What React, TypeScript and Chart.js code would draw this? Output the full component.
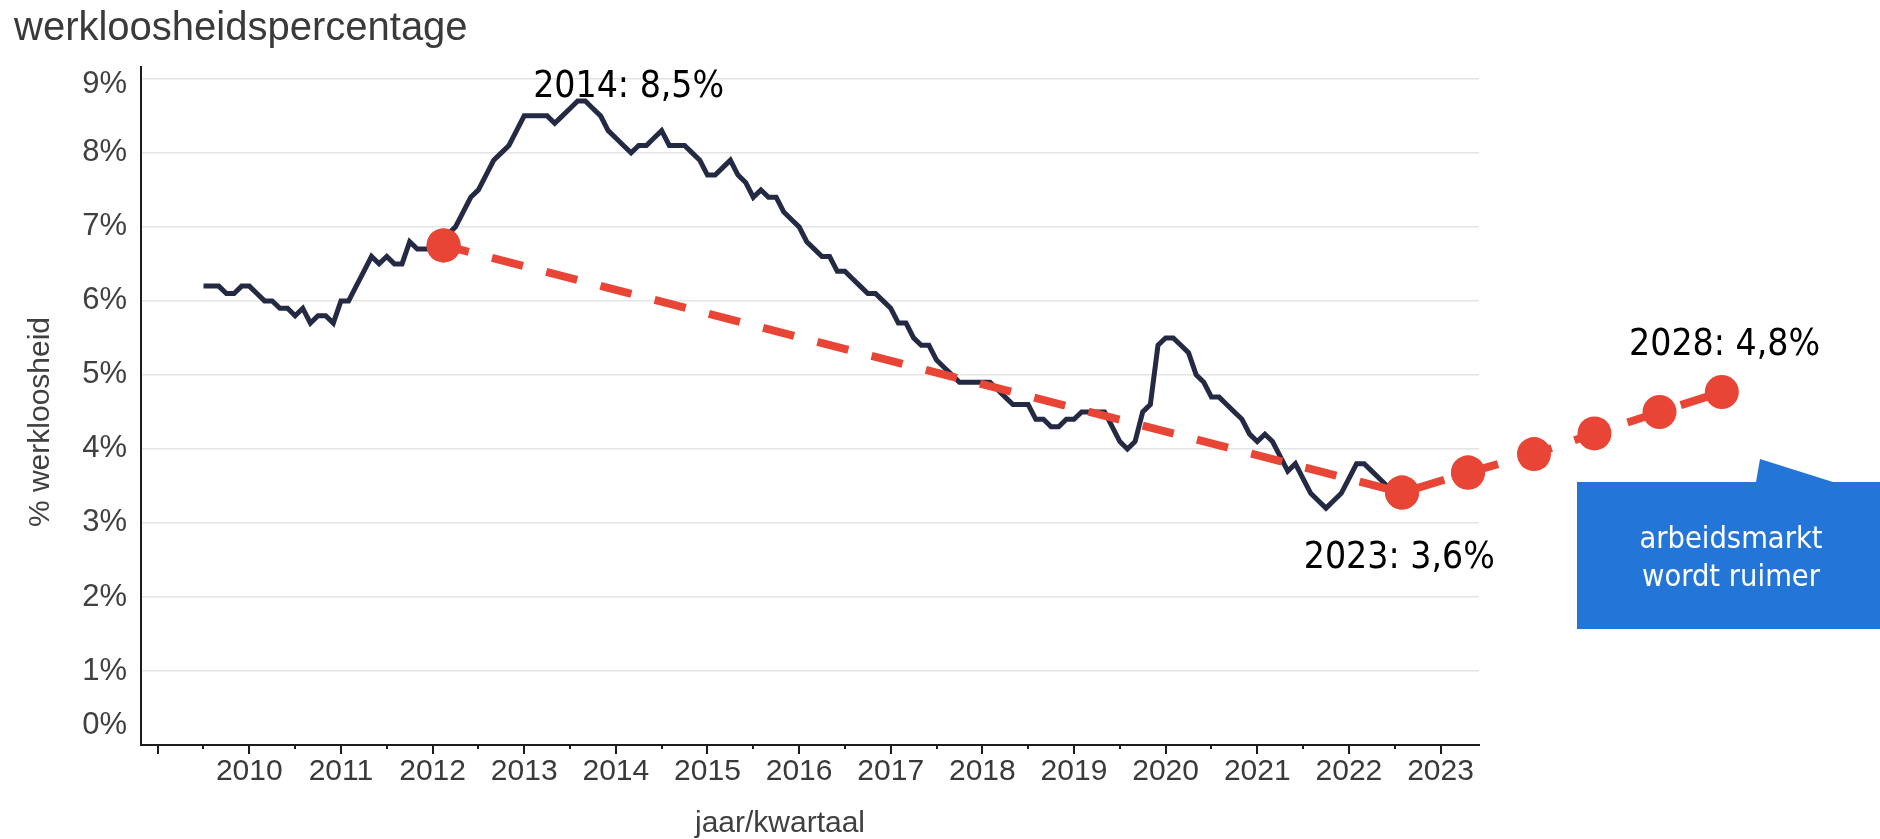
import React, { useEffect, useRef } from 'react';
import { Chart, registerables } from 'chart.js';

Chart.register(...registerables);

// ---- texts ----
const CHART_TITLE = 'werkloosheidspercentage';
const Y_AXIS_TITLE = '% werkloosheid';
const X_AXIS_TITLE = 'jaar/kwartaal';
const CALLOUT_LINES = ['arbeidsmarkt', 'wordt ruimer'];

// ---- data ----
// monthly unemployment rate (%), first month = July 2009
const SERIES_START = 2009.5;
const unemploymentMonthly = [
  6.2, 6.2, 6.2, 6.1, 6.1, 6.2, 6.2, 6.1, 6.0, 6.0, 5.9, 5.9,
  5.8, 5.9, 5.7, 5.8, 5.8, 5.7, 6.0, 6.0, 6.2, 6.4, 6.6, 6.5,
  6.6, 6.5, 6.5, 6.8, 6.7, 6.7, 6.7, 6.8, 6.9, 7.0, 7.2, 7.4,
  7.5, 7.7, 7.9, 8.0, 8.1, 8.3, 8.5, 8.5, 8.5, 8.5, 8.4, 8.5,
  8.6, 8.7, 8.7, 8.6, 8.5, 8.3, 8.2, 8.1, 8.0, 8.1, 8.1, 8.2,
  8.3, 8.1, 8.1, 8.1, 8.0, 7.9, 7.7, 7.7, 7.8, 7.9, 7.7, 7.6,
  7.4, 7.5, 7.4, 7.4, 7.2, 7.1, 7.0, 6.8, 6.7, 6.6, 6.6, 6.4,
  6.4, 6.3, 6.2, 6.1, 6.1, 6.0, 5.9, 5.7, 5.7, 5.5, 5.4, 5.4,
  5.2, 5.1, 5.0, 4.9, 4.9, 4.9, 4.9, 4.9, 4.8, 4.7, 4.6, 4.6,
  4.6, 4.4, 4.4, 4.3, 4.3, 4.4, 4.4, 4.5, 4.5, 4.5, 4.5, 4.3,
  4.1, 4.0, 4.1, 4.5, 4.6, 5.4, 5.5, 5.5, 5.4, 5.3, 5.0, 4.9,
  4.7, 4.7, 4.6, 4.5, 4.4, 4.2, 4.1, 4.2, 4.1, 3.9, 3.7, 3.8,
  3.6, 3.4, 3.3, 3.2, 3.3, 3.4, 3.6, 3.8, 3.8, 3.7, 3.6, 3.5,
  3.4,
];

// trend / forecast markers (year they stand for, place on the time axis, value)
const trendYears = ['2012', '2023', '2024', '2025', '2026', '2027', '2028'];
const trendAxisPositions = [2012.12, 2022.58, 2023.3, 2024.02, 2024.68, 2025.39, 2026.07];
const trendValues = [6.75, 3.41, 3.68, 3.93, 4.21, 4.5, 4.77];

// axis ticks
const xTickYears = [2009, 2010, 2011, 2012, 2013, 2014, 2015, 2016, 2017, 2018, 2019, 2020, 2021, 2022, 2023];
const xTickLabels = ['', '2010', '2011', '2012', '2013', '2014', '2015', '2016', '2017', '2018', '2019', '2020', '2021', '2022', '2023'];
const yTickValues = [0, 1, 2, 3, 4, 5, 6, 7, 8, 9];
const yTickLabels = ['0%', '1%', '2%', '3%', '4%', '5%', '6%', '7%', '8%', '9%'];

// annotation labels (text, anchored in axis units)
const annotationTexts = ['2014: 8,5%', '2023: 3,6%', '2028: 4,8%'];
const annotationAnchorX = [2014.14, 2022.55, 2026.1];
const annotationAnchorY = [8.76, 2.39, 5.27];

// ---- styles / layout ----
const X_MIN = 2008.818;
const X_MAX = 2023.42;
const Y_MAX = 9.16;
const NAVY = '#252a44';
const RED = '#e84536';
const BLUE = '#2376d8';
const GRID = '#e4e4e4';
const AXIS = '#1c1c1c';
const SANS = '"Liberation Sans", Arial, Helvetica, sans-serif';
const Y_LABEL_SHIFT: Record<number, number> = { 0: -20, 9: 6 };

function hasCondensed(ctx: CanvasRenderingContext2D) {
  ctx.save();
  ctx.font = '40px "DejaVu Sans Condensed", "DejaVu Sans"';
  const a = ctx.measureText('2014: 8,5% arbeidsmarkt').width;
  ctx.font = '40px "DejaVu Sans"';
  const b = ctx.measureText('2014: 8,5% arbeidsmarkt').width;
  ctx.restore();
  return Math.abs(a - b) > 1;
}

function condensedText(ctx: CanvasRenderingContext2D, txt: string, x: number, y: number, size: number, condensed: boolean) {
  ctx.save();
  ctx.translate(x, y);
  if (condensed) {
    ctx.font = `${size}px "DejaVu Sans Condensed"`;
  } else {
    ctx.font = `${size}px "DejaVu Sans"`;
    ctx.scale(0.9, 1);
  }
  ctx.fillText(txt, 0, 0);
  ctx.restore();
}

const decorations = {
  id: 'decorations',
  afterDatasetsDraw(chart: any) {
    // trend markers reach beyond the plot area: draw those points with the whole canvas as bounds
    const meta = chart.getDatasetMeta(0);
    const full = { left: 0, top: 0, right: chart.width, bottom: chart.height };
    meta.data.forEach((el: any) => el.draw(chart.ctx, full));
  },
  afterDraw(chart: any) {
    const ctx: CanvasRenderingContext2D = chart.ctx;
    const xs = chart.scales.x;
    const ys = chart.scales.y;
    const area = chart.chartArea;
    const condensed = hasCondensed(ctx);
    ctx.save();

    // title
    ctx.fillStyle = '#3a3a3a';
    ctx.font = `40px ${SANS}`;
    ctx.textAlign = 'left';
    ctx.textBaseline = 'alphabetic';
    ctx.fillText(CHART_TITLE, 14, 40);

    // y tick labels
    ctx.fillStyle = '#404040';
    ctx.font = `31px ${SANS}`;
    ctx.textAlign = 'right';
    ctx.textBaseline = 'middle';
    yTickValues.forEach((v, i) => {
      ctx.fillText(yTickLabels[i], area.left - 14, ys.getPixelForValue(v) + (Y_LABEL_SHIFT[v] || 0));
    });

    // y axis title
    ctx.font = `30px ${SANS}`;
    ctx.save();
    ctx.translate(41, 422);
    ctx.rotate(-Math.PI / 2);
    ctx.textAlign = 'center';
    ctx.textBaseline = 'middle';
    ctx.fillText(Y_AXIS_TITLE, 0, 0);
    ctx.restore();

    // x axis title
    ctx.textAlign = 'center';
    ctx.textBaseline = 'alphabetic';
    ctx.fillText(X_AXIS_TITLE, 780, 832);

    // x tick marks (long at years, short at half years)
    ctx.strokeStyle = AXIS;
    ctx.lineWidth = 2;
    xs.ticks.forEach((t: any) => {
      const px = Math.round(xs.getPixelForValue(t.value));
      const len = Number.isInteger(t.value) ? 9 : 4;
      ctx.beginPath();
      ctx.moveTo(px, area.bottom);
      ctx.lineTo(px, area.bottom + len);
      ctx.stroke();
    });

    // annotation labels
    ctx.fillStyle = '#000';
    ctx.textAlign = 'center';
    ctx.textBaseline = 'alphabetic';
    annotationTexts.forEach((txt, i) => {
      const px = xs.getPixelForValue(annotationAnchorX[i]);
      const py = ys.getPixelForValue(annotationAnchorY[i]);
      condensedText(ctx, txt, px, py, 37, condensed);
    });

    // callout box
    ctx.fillStyle = BLUE;
    ctx.beginPath();
    ctx.moveTo(1577, 482);
    ctx.lineTo(1756, 482);
    ctx.lineTo(1760, 459);
    ctx.lineTo(1833, 482);
    ctx.lineTo(1880, 482);
    ctx.lineTo(1880, 629);
    ctx.lineTo(1577, 629);
    ctx.closePath();
    ctx.fill();
    ctx.fillStyle = '#ffffff';
    ctx.textAlign = 'center';
    condensedText(ctx, CALLOUT_LINES[0], 1731, 548, 30.5, condensed);
    condensedText(ctx, CALLOUT_LINES[1], 1731, 586, 30.5, condensed);

    ctx.restore();
  },
};

export default function App() {
  const ref = useRef<HTMLCanvasElement>(null);

  useEffect(() => {
    const canvas = ref.current;
    if (!canvas) return;

    const seriesPoints = unemploymentMonthly.map((v, i) => ({ x: SERIES_START + i / 12, y: v }));
    const trendPoints = trendValues.map((v, i) => ({ x: trendAxisPositions[i], y: v, year: trendYears[i] }));
    const halfYears = xTickYears.slice(0, -1).map((y) => y + 0.5);
    const xTicks = [...xTickYears, ...halfYears].sort((p, q) => p - q);

    const chart = new Chart(canvas, {
      type: 'line',
      data: {
        datasets: [
          {
            label: 'trend',
            data: trendPoints,
            borderColor: RED,
            backgroundColor: RED,
            borderWidth: 8,
            borderDash: [32, 24],
            borderDashOffset: 6,
            borderCapStyle: 'butt',
            pointRadius: 17,
            pointHoverRadius: 17,
            pointBackgroundColor: RED,
            pointBorderWidth: 0,
            tension: 0,
            fill: false,
            clip: false,
          } as any,
          {
            label: 'werkloosheid',
            data: seriesPoints,
            borderColor: NAVY,
            borderWidth: 5,
            pointRadius: 0,
            tension: 0,
            fill: false,
            borderJoinStyle: 'miter',
          } as any,
        ],
      },
      options: {
        responsive: false,
        animation: false,
        events: [],
        layout: { padding: { left: 0, top: 67, right: 401, bottom: 0 }, autoPadding: false },
        plugins: {
          legend: { display: false },
          tooltip: { enabled: false },
          title: { display: false },
        },
        scales: {
          x: {
            type: 'linear',
            position: 'bottom',
            afterDataLimits: (s: any) => {
              s.min = X_MIN;
              s.max = X_MAX;
            },
            afterBuildTicks: (s: any) => {
              s.min = X_MIN;
              s.max = X_MAX;
              s.ticks = xTicks.map((v) => ({ value: v }));
            },
            afterFit: (s: any) => {
              s.height = 94;
            },
            grid: { display: false, drawTicks: false },
            border: { display: true, color: AXIS, width: 2 },
            ticks: {
              autoSkip: false,
              maxRotation: 0,
              minRotation: 0,
              padding: 9,
              color: '#3a3a3a',
              font: { family: SANS, size: 30 },
              callback: (value: any) => {
                const idx = xTickYears.indexOf(Number(value));
                return idx >= 0 ? xTickLabels[idx] : '';
              },
            },
          } as any,
          y: {
            type: 'linear',
            min: 0,
            max: Y_MAX,
            bounds: 'data',
            afterBuildTicks: (s: any) => {
              s.ticks = yTickValues.map((v) => ({ value: v }));
            },
            afterFit: (s: any) => {
              s.width = 141;
            },
            ticks: { display: false, stepSize: 1 },
            grid: { color: GRID, lineWidth: 1.5, drawTicks: false },
            border: { display: true, color: AXIS, width: 2 },
          } as any,
        },
      },
      plugins: [decorations],
    });

    return () => chart.destroy();
  }, []);

  return (
    <div style={{ position: 'absolute', left: 0, top: 0, width: 1880, height: 839, background: '#ffffff' }}>
      <canvas ref={ref} width={1880} height={839} style={{ display: 'block' }} />
    </div>
  );
}
